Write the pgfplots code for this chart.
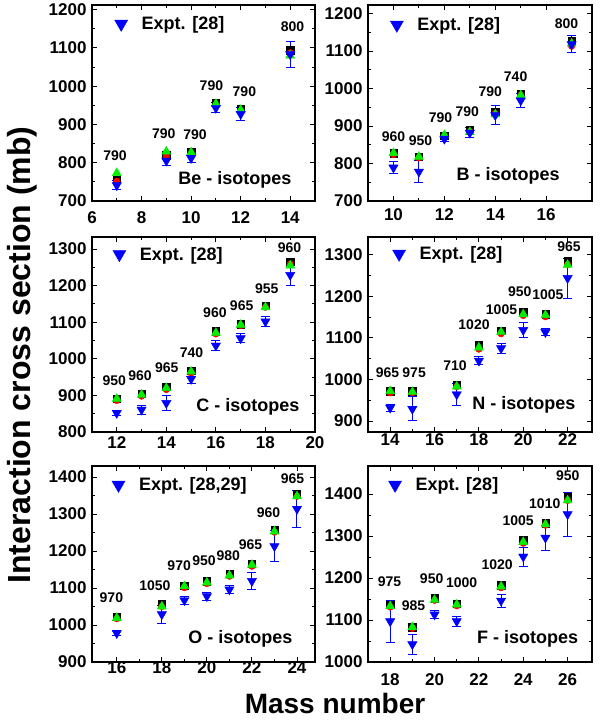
\documentclass[border=0pt]{standalone}
\usepackage{pgfplots}
\pgfplotsset{compat=1.18}
\usepackage{pgfplotstable}
\usepackage{fontspec}
\setmainfont{Liberation Sans}

\definecolor{expblue}{RGB}{0,0,255}
\definecolor{thgreen}{RGB}{0,240,0}
\definecolor{thred}{RGB}{255,0,0}

% columns: A, black squares, red circles, green triangles, expt, expt error
\pgfplotstableread{
A sq ci tr ex dex
7 755 751 773 741 12
9 820 816 829 805 12
10 829 822 827 812 12
11 957 949 954 943 13
12 941 936 938 927 18
14 1094 1087 1080 1083 34
}\tabBe
\pgfplotstableread{
A sq ci tr ex dex
10 827 824 828 789 16
11 818 815 818 778 29
12 875 872 876 866 7
13 889 885 884 882 13
14 938 934 931 929 25
15 986 982 982 968 18
17 1126 1113 1120 1118 23
}\tabB
\pgfplotstableread{
A sq ci tr ex dex
12 891 886 891 852 8
13 905 898 902 861 12
14 923 916 920 879 20
15 968 961 965 945 13
16 1075 1068 1071 1036 13
17 1095 1091 1093 1056 12
18 1145 1141 1141 1102 15
19 1265 1259 1255 1229 29
}\tabC
\pgfplotstableread{
A sq ci tr ex dex
14 972 968 972 932 8
15 972 968 970 929 29
17 988 983 983 964 26
18 1083 1073 1077 1045 10
19 1117 1110 1114 1075 12
20 1162 1154 1157 1119 18
21 1157 1151 1155 1114 9
22 1285 1277 1276 1244 48
}\tabN
\pgfplotstableread{
A sq ci tr ex dex
16 1022 1017 1019 978 6
18 1056 1050 1050 1029 25
19 1107 1101 1105 1067 11
20 1119 1112 1115 1078 11
21 1139 1132 1134 1096 12
22 1166 1159 1163 1119 23
23 1258 1251 1253 1213 42
24 1355 1348 1348 1314 51
}\tabO
\pgfplotstableread{
A sq ci tr ex dex
18 1137 1131 1133 1097 50
19 1083 1080 1083 1042 24
20 1152 1147 1148 1113 10
21 1139 1134 1137 1097 12
23 1183 1177 1180 1146 16
24 1290 1283 1286 1251 23
25 1331 1326 1328 1296 30
26 1393 1385 1385 1352 53
}\tabF

\pgfplotsset{
  panel/.style={
    scale only axis, height=196pt,
    anchor=south west,
    tick align=inside,
    minor x tick num=1, minor y tick num=1,
    major tick length=5pt, minor tick length=3pt,
    tick style={black, line width=0.9pt},
    axis line style={line width=1.1pt},
    /pgf/number format/assume math mode=true,
    /pgf/number format/1000 sep={},
    ticklabel style={font=\fontsize{17}{17}\selectfont\bfseries},
    yticklabel style={xshift=-2pt},
    legend image code/.code={\draw[##1] plot coordinates {(0pt,0pt)};},
    legend style={draw=none, fill=none, inner sep=0pt, anchor=west,
      column sep=14pt, font=\fontsize{18}{18}\selectfont\bfseries,
      nodes={inner sep=0pt}},
    clip=false,
  },
  sq/.style={only marks, mark=square*, mark size=3.7pt, black, forget plot},
  ci/.style={only marks, mark=*, mark size=3.3pt, thred, forget plot},
  tr/.style={only marks, mark=triangle*, mark size=5.2pt, thgreen, forget plot},
  ex/.style={only marks, mark=triangle*, mark options={rotate=180}, mark size=5.4pt,
    expblue, forget plot,
    /pgfplots/error bars/y dir=both, /pgfplots/error bars/y explicit,
    /pgfplots/error bars/error bar style={expblue, line width=1pt},
    /pgfplots/error bars/error mark options={rotate=90, expblue, mark size=4.5pt, line width=1pt}},
}
\tikzset{
  lab/.style={font=\fontsize{14}{14}\selectfont\bfseries},
  iso/.style={font=\fontsize{18}{18}\selectfont\bfseries, anchor=base east},
}

\newcommand{\series}[1]{%
  \addplot[sq] table[x=A, y=sq] {#1};
  \addplot[ci] table[x=A, y=ci] {#1};
  \addplot[tr] table[x=A, y=tr] {#1};
  \addplot[ex] table[x=A, y=ex, y error=dex] {#1};
  \addlegendimage{only marks, mark=triangle*, mark options={rotate=180}, mark size=7.5pt, expblue}
}

\begin{document}
\begin{tikzpicture}
\path[use as bounding box] (0,0) rectangle (601pt,723pt);

% Be
\begin{axis}[panel, at={(92pt,522pt)}, width=223pt,
  xmin=6, xmax=15, ymin=700, ymax=1212,
  xtick={6,8,...,14}, ytick={700,800,...,1200},
  xticklabel style={yshift=-7pt},
  legend style={at={(axis description cs:0.13,0.903)}, xshift=-6.5pt}]
\series{\tabBe}
\addlegendentry{Expt. [28]}
\node[lab] at (axis cs:6.93,819) {790};
\node[lab] at (axis cs:8.9,875) {790};
\node[lab] at (axis cs:10.16,873) {790};
\node[lab] at (axis cs:10.82,1001) {790};
\node[lab] at (axis cs:12.15,986) {790};
\node[lab] at (axis cs:14.09,1156) {800};
\node[iso] at (axis description cs:0.91,0.082) {Be - isotopes};
\end{axis}

% B
\begin{axis}[panel, at={(368pt,522pt)}, width=224pt,
  xmin=9, xmax=17.8, ymin=700, ymax=1223,
  xtick={10,12,...,16}, ytick={700,800,...,1200},
  xticklabel style={yshift=-4pt},
  legend style={at={(axis description cs:0.128,0.898)}, xshift=-6.5pt}]
\series{\tabB}
\addlegendentry{Expt. [28]}
\node[lab] at (axis cs:10,871) {960};
\node[lab] at (axis cs:11.06,860) {950};
\node[lab] at (axis cs:11.85,922) {790};
\node[lab] at (axis cs:12.9,939) {790};
\node[lab] at (axis cs:13.8,993) {790};
\node[lab] at (axis cs:14.8,1032) {740};
\node[lab] at (axis cs:16.8,1174) {800};
\node[iso] at (axis description cs:0.871,0.107) {B - isotopes};
\end{axis}

% C
\begin{axis}[panel, at={(92pt,291pt)}, width=223pt, height=195pt,
  xmin=11, xmax=20, ymin=800, ymax=1333,
  xtick={12,14,...,20}, ytick={800,900,...,1300},
  xticklabel style={yshift=-1pt},
  legend style={at={(axis description cs:0.122,0.911)}, xshift=-6.5pt}]
\series{\tabC}
\addlegendentry{Expt. [28]}
\node[lab] at (axis cs:11.9,941) {950};
\node[lab] at (axis cs:12.94,953) {960};
\node[lab] at (axis cs:14.02,975) {965};
\node[lab] at (axis cs:15.02,1018) {740};
\node[lab] at (axis cs:15.96,1125) {960};
\node[lab] at (axis cs:17.04,1144) {965};
\node[lab] at (axis cs:18.05,1191) {955};
\node[lab] at (axis cs:18.97,1305) {960};
\node[iso] at (axis description cs:0.946,0.104) {C - isotopes};
\end{axis}

% N
\begin{axis}[panel, at={(368pt,291pt)}, width=224pt, height=195pt,
  xmin=13, xmax=23.1, ymin=873.5, ymax=1343,
  xtick={14,16,...,22}, ytick={900,1000,...,1300},
  xticklabel style={yshift=2pt},
  legend style={at={(axis description cs:0.138,0.913)}, xshift=-6.5pt}]
\series{\tabN}
\addlegendentry{Expt. [28]}
\node[lab] at (axis cs:13.88,1017) {965};
\node[lab] at (axis cs:15.08,1017) {975};
\node[lab] at (axis cs:16.92,1033) {710};
\node[lab] at (axis cs:17.78,1131) {1020};
\node[lab] at (axis cs:19.02,1167) {1005};
\node[lab] at (axis cs:19.84,1212) {950};
\node[lab] at (axis cs:21.11,1204) {1005};
\node[lab] at (axis cs:22.06,1320) {965};
\node[iso] at (axis description cs:0.942,0.116) {N - isotopes};
\end{axis}

% O
\begin{axis}[panel, at={(92pt,61pt)}, width=223pt,
  xmin=14.9, xmax=24.8, ymin=900, ymax=1430,
  xtick={16,18,...,24}, ytick={900,1000,...,1400},
  xticklabel style={yshift=4pt},
  legend style={at={(axis description cs:0.118,0.903)}, xshift=-6.5pt}]
\series{\tabO}
\addlegendentry{Expt. [28,29]}
\node[lab] at (axis cs:15.76,1073) {970};
\node[lab] at (axis cs:17.69,1107) {1050};
\node[lab] at (axis cs:18.77,1161) {970};
\node[lab] at (axis cs:19.87,1173) {950};
\node[lab] at (axis cs:20.95,1188) {980};
\node[lab] at (axis cs:21.94,1217) {965};
\node[lab] at (axis cs:22.74,1303) {960};
\node[lab] at (axis cs:23.8,1396) {965};
\node[iso] at (axis description cs:0.915,0.095) {O - isotopes};
\end{axis}

% F
\begin{axis}[panel, at={(368pt,61pt)}, width=224pt,
  xmin=17, xmax=27.1, ymin=1000, ymax=1467,
  xtick={18,20,...,26}, ytick={1000,1100,...,1400},
  xticklabel style={yshift=-8pt},
  legend style={at={(axis description cs:0.12,0.903)}, xshift=-6.5pt}]
\series{\tabF}
\addlegendentry{Expt. [28]}
\node[lab] at (axis cs:17.97,1191) {975};
\node[lab] at (axis cs:19.05,1133) {985};
\node[lab] at (axis cs:19.87,1198) {950};
\node[lab] at (axis cs:21.22,1188) {1000};
\node[lab] at (axis cs:22.82,1233) {1020};
\node[lab] at (axis cs:23.77,1336) {1005};
\node[lab] at (axis cs:24.97,1377) {1010};
\node[lab] at (axis cs:26.01,1445) {950};
\node[iso] at (axis description cs:0.954,0.095) {F - isotopes};
\end{axis}

\node[font=\fontsize{28}{28}\selectfont\bfseries] at (335pt,20pt) {Mass number};
\node[rotate=90, font=\fontsize{32}{32}\selectfont\bfseries] at (22pt,368pt) {Interaction cross section (mb)};
\end{tikzpicture}
\end{document}
